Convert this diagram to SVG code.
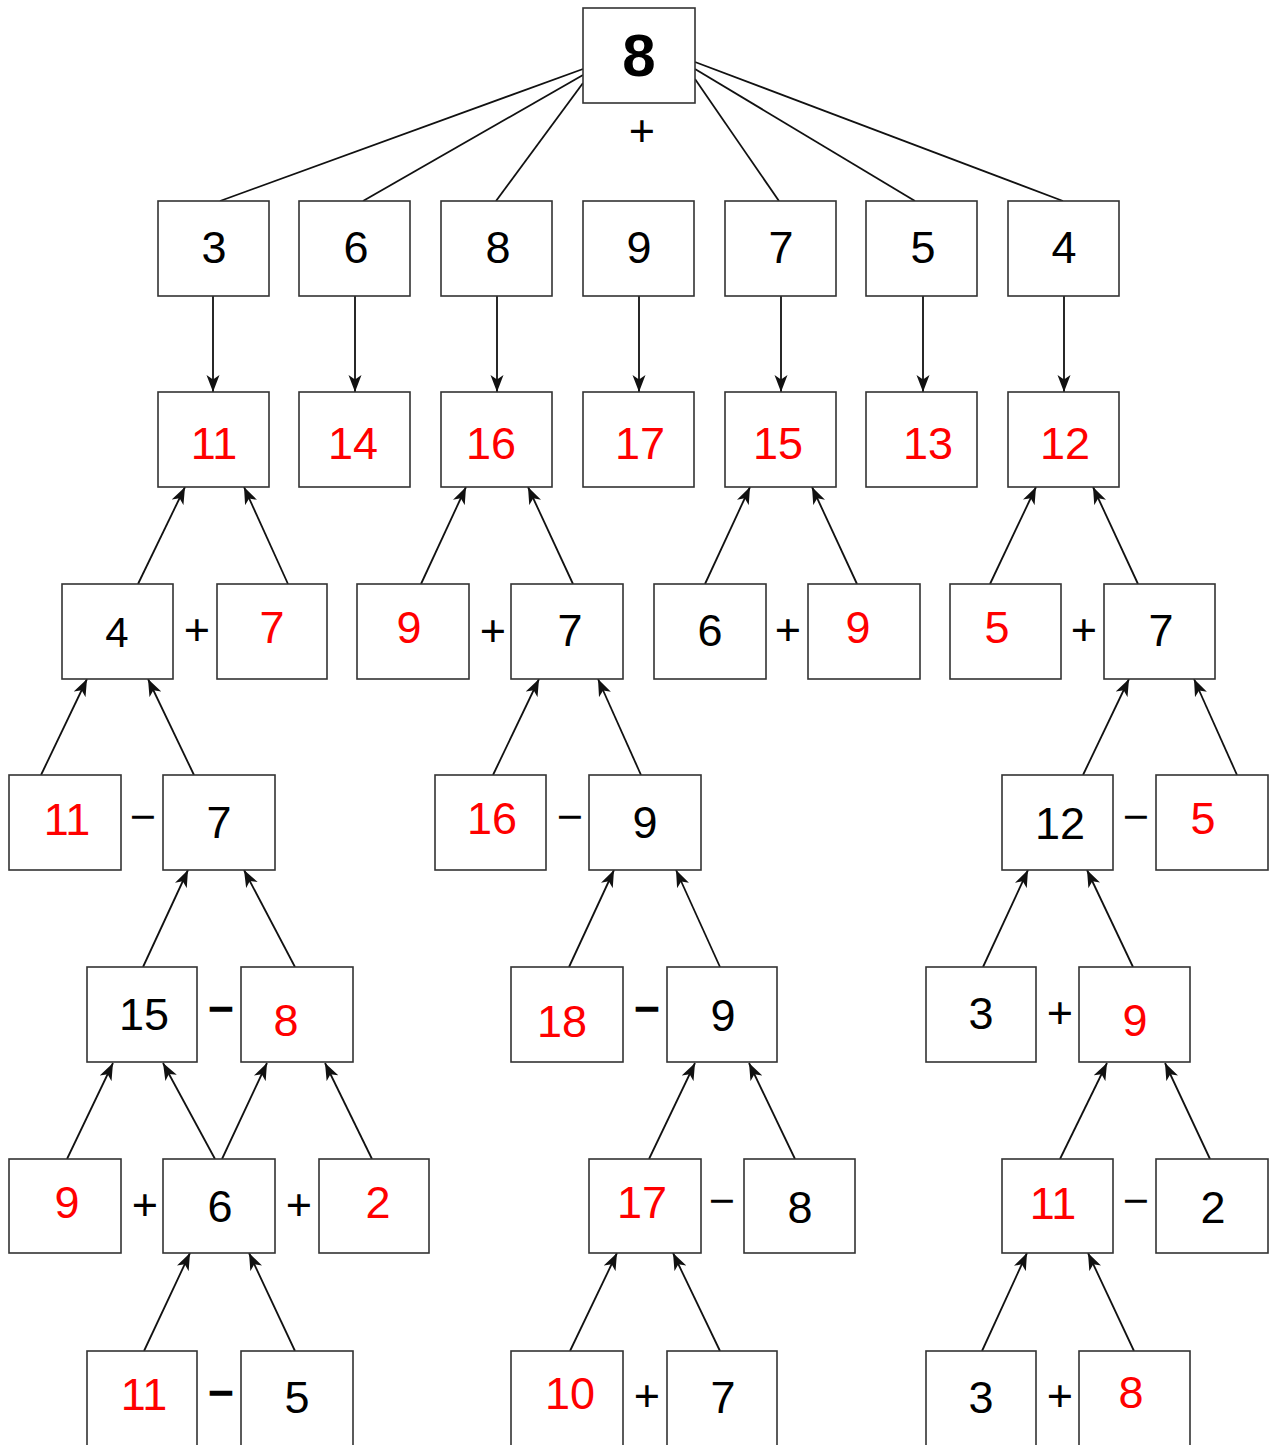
<svg xmlns="http://www.w3.org/2000/svg" width="1271" height="1445" viewBox="0 0 1271 1445">
<style>
.box{fill:#fff;stroke:#333;stroke-width:1.6}
.n{font-family:"Liberation Sans",Arial,sans-serif;font-size:45px;text-anchor:middle;fill:#000}
.r{fill:#ff0000}
.b{font-weight:bold}
.big{font-size:60px}
.sm{font-size:42px}
.e{stroke:#111;stroke-width:1.8;fill:none}
.a{marker-end:url(#arr)}
</style>
<defs>
<marker id="arr" markerUnits="userSpaceOnUse" markerWidth="18" markerHeight="14" viewBox="0 0 18 14" refX="17" refY="7" orient="auto">
<path d="M0,0.5 L17,7 L0,13.5 L4.5,7 Z" fill="#111"/>
</marker>
</defs>
<rect width="1271" height="1445" fill="#fff"/>
<g id="connectors">
<line class="e" x1="583" y1="69" x2="220" y2="201"/>
<line class="e" x1="583" y1="75" x2="363" y2="201"/>
<line class="e" x1="583" y1="83" x2="496" y2="201"/>
<line class="e" x1="695" y1="62" x2="1063" y2="201"/>
<line class="e" x1="695" y1="69" x2="915" y2="201"/>
<line class="e" x1="695" y1="79" x2="779" y2="201"/>
<line class="e a" x1="213" y1="296" x2="213" y2="392"/>
<line class="e a" x1="355" y1="296" x2="355" y2="392"/>
<line class="e a" x1="497" y1="296" x2="497" y2="392"/>
<line class="e a" x1="639" y1="296" x2="639" y2="392"/>
<line class="e a" x1="781" y1="296" x2="781" y2="392"/>
<line class="e a" x1="923" y1="296" x2="923" y2="392"/>
<line class="e a" x1="1064" y1="296" x2="1064" y2="392"/>
<line class="e a" x1="138" y1="584" x2="185" y2="487"/>
<line class="e a" x1="288" y1="584" x2="244" y2="487"/>
<line class="e a" x1="421" y1="584" x2="466" y2="487"/>
<line class="e a" x1="573" y1="584" x2="528" y2="487"/>
<line class="e a" x1="705" y1="584" x2="750" y2="487"/>
<line class="e a" x1="857" y1="584" x2="812" y2="487"/>
<line class="e a" x1="990" y1="584" x2="1036" y2="487"/>
<line class="e a" x1="1138" y1="584" x2="1093" y2="487"/>
<line class="e a" x1="41" y1="775" x2="87" y2="679"/>
<line class="e a" x1="194" y1="775" x2="148" y2="679"/>
<line class="e a" x1="493" y1="775" x2="539" y2="679"/>
<line class="e a" x1="641" y1="775" x2="598" y2="679"/>
<line class="e a" x1="1083" y1="775" x2="1129" y2="679"/>
<line class="e a" x1="1237" y1="775" x2="1194" y2="679"/>
<line class="e a" x1="143" y1="967" x2="188" y2="870"/>
<line class="e a" x1="295" y1="967" x2="244" y2="870"/>
<line class="e a" x1="569" y1="967" x2="614" y2="870"/>
<line class="e a" x1="720" y1="967" x2="676" y2="870"/>
<line class="e a" x1="983" y1="967" x2="1028" y2="870"/>
<line class="e a" x1="1133" y1="967" x2="1087" y2="870"/>
<line class="e a" x1="67" y1="1159" x2="113" y2="1063"/>
<line class="e a" x1="215" y1="1159" x2="163" y2="1063"/>
<line class="e a" x1="222" y1="1159" x2="267" y2="1063"/>
<line class="e a" x1="372" y1="1159" x2="325" y2="1063"/>
<line class="e a" x1="649" y1="1159" x2="695" y2="1063"/>
<line class="e a" x1="795" y1="1159" x2="749" y2="1063"/>
<line class="e a" x1="1060" y1="1159" x2="1107" y2="1063"/>
<line class="e a" x1="1210" y1="1159" x2="1165" y2="1063"/>
<line class="e a" x1="144" y1="1351" x2="190" y2="1253"/>
<line class="e a" x1="295" y1="1351" x2="249" y2="1253"/>
<line class="e a" x1="570" y1="1351" x2="617" y2="1253"/>
<line class="e a" x1="720" y1="1351" x2="673" y2="1253"/>
<line class="e a" x1="982" y1="1351" x2="1027" y2="1253"/>
<line class="e a" x1="1134" y1="1351" x2="1088" y2="1253"/>
</g>
<g id="root"><rect class="box" x="583" y="8" width="112" height="95"/><text class="n b big" x="639" y="76">8</text></g>
<g id="r2-3"><rect class="box" x="158" y="201" width="111" height="95"/><text class="n" x="214" y="263">3</text></g>
<g id="r2-6"><rect class="box" x="299" y="201" width="111" height="95"/><text class="n" x="356" y="263">6</text></g>
<g id="r2-8"><rect class="box" x="441" y="201" width="111" height="95"/><text class="n" x="498" y="263">8</text></g>
<g id="r2-9"><rect class="box" x="583" y="201" width="111" height="95"/><text class="n" x="639" y="263">9</text></g>
<g id="r2-7"><rect class="box" x="725" y="201" width="111" height="95"/><text class="n" x="781" y="263">7</text></g>
<g id="r2-5"><rect class="box" x="866" y="201" width="111" height="95"/><text class="n" x="923" y="263">5</text></g>
<g id="r2-4"><rect class="box" x="1008" y="201" width="111" height="95"/><text class="n" x="1064" y="263">4</text></g>
<g id="r3-11"><rect class="box" x="158" y="392" width="111" height="95"/><text class="n r" x="214" y="459">11</text></g>
<g id="r3-14"><rect class="box" x="299" y="392" width="111" height="95"/><text class="n r" x="353" y="459">14</text></g>
<g id="r3-16"><rect class="box" x="441" y="392" width="111" height="95"/><text class="n r" x="491" y="459">16</text></g>
<g id="r3-17"><rect class="box" x="583" y="392" width="111" height="95"/><text class="n r" x="640" y="459">17</text></g>
<g id="r3-15"><rect class="box" x="725" y="392" width="111" height="95"/><text class="n r" x="778" y="459">15</text></g>
<g id="r3-13"><rect class="box" x="866" y="392" width="111" height="95"/><text class="n r" x="928" y="459">13</text></g>
<g id="r3-12"><rect class="box" x="1008" y="392" width="111" height="95"/><text class="n r" x="1065" y="459">12</text></g>
<g id="r4-a4"><rect class="box" x="62" y="584" width="111" height="95"/><text class="n sm" x="117" y="647">4</text></g>
<g id="r4-a7"><rect class="box" x="217" y="584" width="110" height="95"/><text class="n r" x="272" y="643">7</text></g>
<g id="r4-b9"><rect class="box" x="357" y="584" width="112" height="95"/><text class="n r" x="409" y="643">9</text></g>
<g id="r4-b7"><rect class="box" x="511" y="584" width="112" height="95"/><text class="n" x="570" y="646">7</text></g>
<g id="r4-c6"><rect class="box" x="654" y="584" width="112" height="95"/><text class="n" x="710" y="646">6</text></g>
<g id="r4-c9"><rect class="box" x="808" y="584" width="112" height="95"/><text class="n r" x="858" y="643">9</text></g>
<g id="r4-d5"><rect class="box" x="950" y="584" width="111" height="95"/><text class="n r" x="997" y="643">5</text></g>
<g id="r4-d7"><rect class="box" x="1104" y="584" width="111" height="95"/><text class="n" x="1161" y="646">7</text></g>
<g id="r5-a11"><rect class="box" x="9" y="775" width="112" height="95"/><text class="n r" x="67" y="835">11</text></g>
<g id="r5-a7"><rect class="box" x="163" y="775" width="112" height="95"/><text class="n" x="219" y="838">7</text></g>
<g id="r5-b16"><rect class="box" x="435" y="775" width="111" height="95"/><text class="n r" x="492" y="834">16</text></g>
<g id="r5-b9"><rect class="box" x="589" y="775" width="112" height="95"/><text class="n" x="645" y="838">9</text></g>
<g id="r5-d12"><rect class="box" x="1002" y="775" width="111" height="95"/><text class="n" x="1060" y="839">12</text></g>
<g id="r5-d5"><rect class="box" x="1156" y="775" width="112" height="95"/><text class="n r" x="1203" y="834">5</text></g>
<g id="r6-a15"><rect class="box" x="87" y="967" width="110" height="95"/><text class="n" x="144" y="1030">15</text></g>
<g id="r6-a8"><rect class="box" x="241" y="967" width="112" height="95"/><text class="n r" x="286" y="1036">8</text></g>
<g id="r6-b18"><rect class="box" x="511" y="967" width="112" height="95"/><text class="n r" x="562" y="1037">18</text></g>
<g id="r6-b9"><rect class="box" x="667" y="967" width="110" height="95"/><text class="n" x="723" y="1031">9</text></g>
<g id="r6-d3"><rect class="box" x="926" y="967" width="110" height="95"/><text class="n" x="981" y="1029">3</text></g>
<g id="r6-d9"><rect class="box" x="1079" y="967" width="111" height="95"/><text class="n r" x="1135" y="1036">9</text></g>
<g id="r7-a9"><rect class="box" x="9" y="1159" width="112" height="94"/><text class="n r" x="67" y="1218">9</text></g>
<g id="r7-a6"><rect class="box" x="163" y="1159" width="112" height="94"/><text class="n" x="220" y="1222">6</text></g>
<g id="r7-a2"><rect class="box" x="319" y="1159" width="110" height="94"/><text class="n r" x="378" y="1218">2</text></g>
<g id="r7-b17"><rect class="box" x="589" y="1159" width="112" height="94"/><text class="n r" x="642" y="1218">17</text></g>
<g id="r7-b8"><rect class="box" x="744" y="1159" width="111" height="94"/><text class="n" x="800" y="1223">8</text></g>
<g id="r7-d11"><rect class="box" x="1002" y="1159" width="111" height="94"/><text class="n r" x="1053" y="1219">11</text></g>
<g id="r7-d2"><rect class="box" x="1156" y="1159" width="112" height="94"/><text class="n" x="1213" y="1223">2</text></g>
<g id="r8-a11"><rect class="box" x="87" y="1351" width="110" height="96"/><text class="n r" x="144" y="1410">11</text></g>
<g id="r8-a5"><rect class="box" x="241" y="1351" width="112" height="96"/><text class="n" x="297" y="1413">5</text></g>
<g id="r8-b10"><rect class="box" x="511" y="1351" width="112" height="96"/><text class="n r" x="570" y="1409">10</text></g>
<g id="r8-b7"><rect class="box" x="667" y="1351" width="110" height="96"/><text class="n" x="723" y="1413">7</text></g>
<g id="r8-d3"><rect class="box" x="926" y="1351" width="110" height="96"/><text class="n" x="981" y="1413">3</text></g>
<g id="r8-d8"><rect class="box" x="1079" y="1351" width="111" height="96"/><text class="n r" x="1131" y="1408">8</text></g>
<g id="operators">
<text class="n" x="642" y="146">+</text>
<text class="n" x="197" y="645">+</text>
<text class="n" x="493" y="646">+</text>
<text class="n" x="788" y="645">+</text>
<text class="n" x="1084" y="645">+</text>
<text class="n" x="143" y="832">−</text>
<text class="n" x="570" y="832">−</text>
<text class="n" x="1136" y="832">−</text>
<text class="n b" x="221" y="1024">−</text>
<text class="n b" x="647" y="1024">−</text>
<text class="n" x="1060" y="1028">+</text>
<text class="n" x="145" y="1220">+</text>
<text class="n" x="299" y="1220">+</text>
<text class="n" x="722" y="1216">−</text>
<text class="n" x="1136" y="1216">−</text>
<text class="n b" x="221" y="1408">−</text>
<text class="n" x="647" y="1411">+</text>
<text class="n" x="1060" y="1411">+</text>
</g>
</svg>
